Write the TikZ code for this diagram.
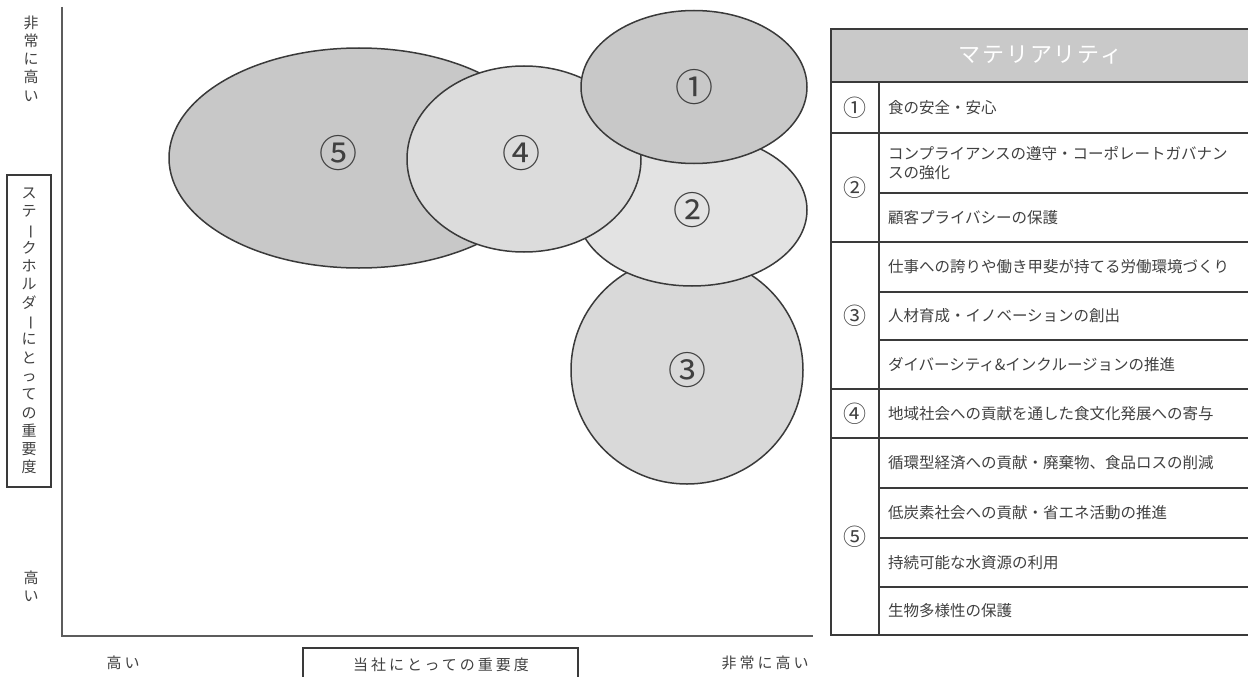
\documentclass[tikz,border=0pt]{standalone}
\usepackage{fontspec}
\setmainfont{Noto Sans CJK JP}
\usepackage{graphicx}
\usepackage{tikz}
\usetikzlibrary{calc,positioning,shapes.geometric}
\definecolor{linec}{HTML}{3A3A3A}
\definecolor{axisc}{HTML}{5C5C5C}
\definecolor{txtc}{HTML}{404040}
\definecolor{darkfill}{HTML}{C8C8C8}
\definecolor{midfill}{HTML}{D9D9D9}
\definecolor{lightfill}{HTML}{DCDCDC}
\definecolor{palefill}{HTML}{E3E3E3}
\definecolor{headfill}{HTML}{C9C9C9}

\begin{document}
\begin{tikzpicture}[x=1pt,y=-1pt,
blob/.style={ellipse,draw=linec,line width=1.5pt,inner sep=0pt,text=txtc,font=\fontsize{38}{38}\selectfont},
cell/.style={draw=linec,line width=1.3pt,inner xsep=9pt,inner ysep=0pt,text width=353pt,align=left,text=txtc,font=\fontsize{15.5}{18.5}\selectfont},
numcell/.style={draw=linec,line width=1.3pt,minimum width=48pt,inner sep=0pt,text=txtc,font=\fontsize{23}{23}\selectfont},
head/.style={draw=linec,line width=1.3pt,fill=headfill,minimum width=419pt,minimum height=53pt,text=white,font=\fontsize{22}{22}\selectfont\addfontfeatures{LetterSpace=8}},
tate/.style={align=center,inner sep=0pt,text=txtc,font=\fontsize{15}{18.3}\selectfont},
yoko/.style={inner sep=0pt,text=txtc,font=\fontsize{15}{15}\selectfont\addfontfeatures{LetterSpace=20}},
axis/.style={draw=axisc,line width=2.6pt},
frame/.style={draw=linec,line width=1.3pt}]
\useasboundingbox (0,0) rectangle (1248,677);
\clip (0,0) rectangle (1248,677);

% axes
\coordinate (ytop) at (62,7);
\coordinate (xend) at (813,636);
\draw[axis] (ytop) |- (xend);

% y axis labels
\node[tate] (yhi) at (31,58.5) {非\\常\\に\\高\\い};
\node[tate,draw=linec,line width=1.3pt,minimum width=44pt,minimum height=312pt] (ylab) at (29,331)
  {ス\\テ\\\rotatebox[origin=c]{-90}{ー}\\ク\\ホ\\ル\\ダ\\\rotatebox[origin=c]{-90}{ー}\\に\\と\\っ\\て\\の\\重\\要\\度};
\node[tate] (ylo) at (31,586) {高\\い};

% x axis labels
\node[yoko] (xlo) at (123,663) {高い};
\node[yoko] (xlab) at (441,665) {当社にとっての重要度};
\node[yoko] (xhi) at (765,663) {非常に高い};
\draw[frame] (303,680) |- (578,648) -- (578,680);

% materiality blobs
\node[blob,fill=midfill,minimum width=232pt,minimum height=228pt] (m3) at (687,370) {③};
\node[blob,fill=palefill,minimum width=230pt,minimum height=152pt] (m2) at (692,210) {②};
\node[blob,fill=darkfill,minimum width=380pt,minimum height=220pt] (m5) at (359,158) {};
\node[font=\fontsize{38}{38}\selectfont,text=txtc,inner sep=0pt] (n5) at ($(m5)+(-21,-5)$) {⑤};
\node[blob,fill=lightfill,minimum width=234pt,minimum height=186pt] (m4) at (524,159) {};
\node[font=\fontsize{38}{38}\selectfont,text=txtc,inner sep=0pt] (n4) at ($(m4)+(-3,-6)$) {④};
\node[blob,fill=darkfill,minimum width=226pt,minimum height=153pt] (m1) at (694,87) {①};

% table
\node[head] (hd) at (1040.5,55.5) {マテリアリティ};
\foreach \r/\t/\b/\txt in {
 1/82/133/{食の安全・安心},
 2a/133/193/{コンプライアンスの遵守・コーポレートガバナン\\スの強化},
 2b/193/242/{顧客プライバシーの保護},
 3a/242/292/{仕事への誇りや働き甲斐が持てる労働環境づくり},
 3b/292/340/{人材育成・イノベーションの創出},
 3c/340/389/{ダイバーシティ\&インクルージョンの推進},
 4/389/438/{地域社会への貢献を通した食文化発展への寄与},
 5a/438/488/{循環型経済への貢献・廃棄物、食品ロスの削減},
 5b/488/538/{低炭素社会への貢献・省エネ活動の推進},
 5c/538/587/{持続可能な水資源の利用},
 5d/587/635/{生物多様性の保護}}
 \node[cell,minimum height=\b-\t] (r\r) at (1064.5,{(\t+\b)/2}) {\txt};
\foreach \n/\t/\b/\c in {1/82/133/①,2/133/242/②,3/242/389/③,4/389/438/④,5/438/635/⑤}
 \node[numcell,minimum height=\b-\t] (k\n) at (855,{(\t+\b)/2}) {\c};
\end{tikzpicture}
\end{document}
